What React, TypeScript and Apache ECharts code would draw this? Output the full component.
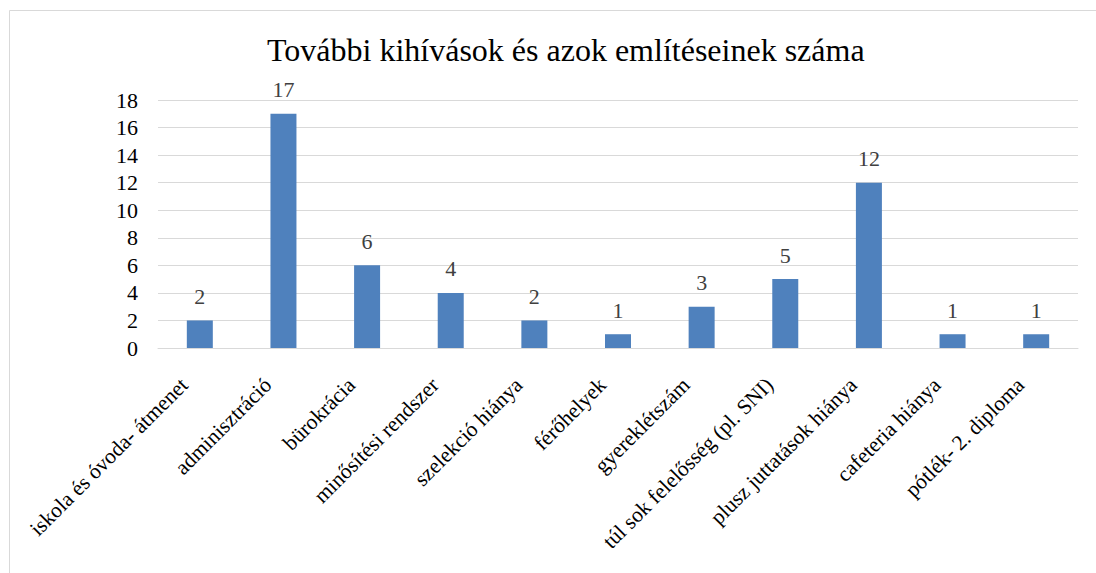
import React, { useEffect, useRef } from "react";
import * as echarts from "echarts";

const categories = [
  "iskola és óvoda- átmenet",
  "adminisztráció",
  "bürokrácia",
  "minősítési rendszer",
  "szelekció hiánya",
  "férőhelyek",
  "gyereklétszám",
  "túl sok felelősség (pl. SNI)",
  "plusz juttatások hiánya",
  "cafeteria hiánya",
  "pótlék- 2. diploma",
];
const values = [2, 17, 6, 4, 2, 1, 3, 5, 12, 1, 1];
const titleText = "További kihívások és azok említéseinek száma";

const serif = "'Liberation Serif', 'Times New Roman', serif";

export default function App() {
  const ref = useRef<HTMLDivElement>(null);
  useEffect(() => {
    document.body.style.margin = "0";
    if (!ref.current) return;
    const chart = echarts.init(ref.current, undefined, { renderer: "svg" });
    chart.setOption({
      animation: false,
      backgroundColor: "#ffffff",
      title: {
        text: titleText,
        left: 262,
        top: 29,
        textStyle: { fontFamily: serif, fontSize: 32, fontWeight: "normal", color: "#000000" },
      },
      graphic: [
        {
          type: "rect",
          shape: { x: 9.5, y: 10.5, width: 1200, height: 700 },
          style: { fill: "none", stroke: "#d9d9d9", lineWidth: 1 },
          silent: true,
        },
      ],
      grid: { left: 158, right: 18, top: 100, bottom: 225 },
      xAxis: {
        type: "category",
        data: categories,
        axisTick: { show: false },
        axisLine: { lineStyle: { color: "#d9d9d9", width: 1 } },
        axisLabel: {
          rotate: 45,
          interval: 0,
          fontFamily: serif,
          fontSize: 21.5,
          color: "#000000",
          margin: 18,
          padding: [0, 22, 0, 0],
        },
      },
      yAxis: {
        type: "value",
        min: 0,
        max: 18,
        interval: 2,
        axisLine: { show: false },
        axisTick: { show: false },
        splitLine: { lineStyle: { color: "#d9d9d9", width: 1 } },
        axisLabel: { fontFamily: serif, fontSize: 22, color: "#000000", margin: 20 },
      },
      series: [
        {
          type: "bar",
          data: values,
          barWidth: 26,
          itemStyle: { color: "#4f81bd" },
          label: {
            show: true,
            position: "top",
            distance: 13,
            fontFamily: serif,
            fontSize: 22,
            color: "#404040",
          },
        },
      ],
    });
    return () => chart.dispose();
  }, []);
  return <div ref={ref} style={{ width: 1096, height: 573 }} />;
}
